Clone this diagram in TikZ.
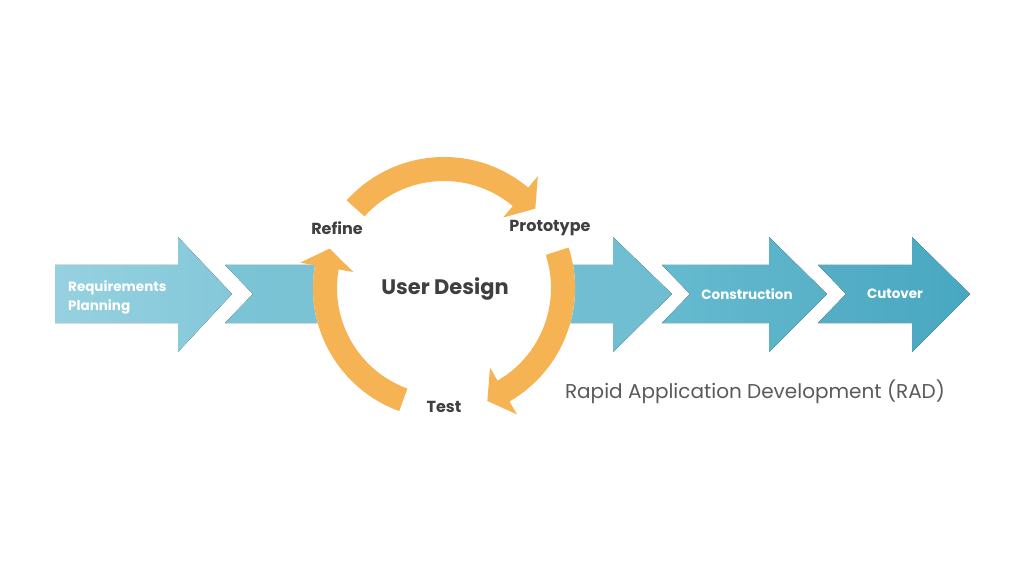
\documentclass[tikz,border=0pt]{standalone}
\usepackage{fontspec}
\setmainfont{Poppins}
\definecolor{aone}{HTML}{96D1E0}
\definecolor{aoneb}{HTML}{84C8D9}
\definecolor{atwo}{HTML}{7BC4D6}
\definecolor{atwob}{HTML}{6FBDD1}
\definecolor{athree}{HTML}{65BACF}
\definecolor{athreeb}{HTML}{58B1C8}
\definecolor{afour}{HTML}{55AEC6}
\definecolor{afourb}{HTML}{48A8C1}
\definecolor{ringc}{HTML}{F6B353}
\definecolor{labc}{HTML}{3F3F3F}
\definecolor{radc}{HTML}{5A5A5A}
\tikzset{
  phase/.style={draw=none},
  lab/.style={font=\bfseries\fontsize{16}{19}\selectfont, text=labc, inner sep=0pt},
  wlab/.style={font=\bfseries\fontsize{13.5}{19}\selectfont, text=white, inner sep=0pt},
  ringarrow/.style={fill=ringc, draw=none}
}
\newcommand{\ringarc}[3]{%
  \fill[ringarrow] (#1:131) arc[start angle=#1, end angle=#2, radius=131]
    -- (#2:146) -- (#3:121) -- (#2:92) -- (#2:107)
    arc[start angle=#2, end angle=#1, radius=107] -- cycle;}
\begin{document}
\begin{tikzpicture}[x=1pt,y=1pt]
\useasboundingbox (0,0) rectangle (1024,576);
\fill[white] (0,0) rectangle (1024,576);
% phase arrows
\fill[phase, left color=aone, right color=aoneb]
  (55,311) -- (178,311) -- (178,339) -- (232,282) -- (178,224) -- (178,253) -- (55,253) -- cycle;
\fill[phase, left color=atwo, right color=atwob]
  (225,311) -- (613,311) -- (613,339) -- (672,282) -- (613,224) -- (613,253) -- (225,253) -- (253,282) -- cycle;
\fill[phase, left color=athree, right color=athreeb]
  (662,311) -- (769,311) -- (769,339) -- (827,282) -- (769,224) -- (769,253) -- (662,253) -- (690,282) -- cycle;
\fill[phase, left color=afour, right color=afourb]
  (818,311) -- (912,311) -- (912,339) -- (970,282) -- (912,224) -- (912,253) -- (818,253) -- (846,282) -- cycle;
% ring
\begin{scope}[shift={(444,288)}]
  \fill[white] (0,0) circle[radius=131];
  \ringarc{138}{50}{41}
  \ringarc{18}{-60}{-69}
  \ringarc{250}{170}{161}
\end{scope}
% labels
\node[wlab, anchor=west, align=left] (req) at (68,279) {Requirements\\Planning};
\node[wlab] (con) at (747,282) {Construction};
\node[wlab] (cut) at (895,282) {Cutover};
\node[lab] (ref) at (337,348) {Refine};
\node[lab] (pro) at (550,348) {Prototype};
\node[lab] (tst) at (444,169) {Test};
\node[font=\bfseries\fontsize{21}{25}\selectfont, text=labc, inner sep=0pt] (ud) at (445,287) {User Design};
\node[font=\fontsize{20}{24}\selectfont, text=radc, inner sep=0pt] (rad) at (755,184) {Rapid Application Development (RAD)};
\end{tikzpicture}
\end{document}
